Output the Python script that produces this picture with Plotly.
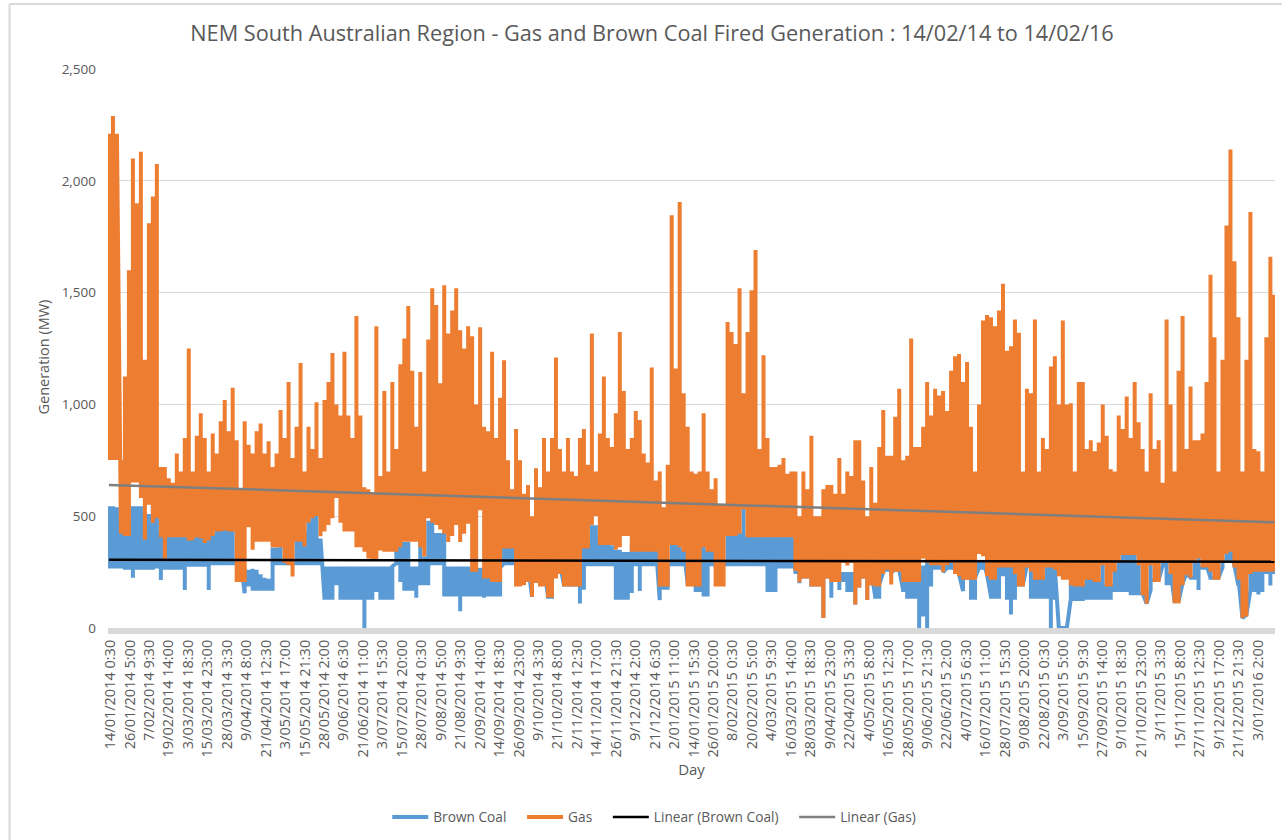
import plotly.graph_objects as go

title_text = "NEM South Australian Region - Gas and Brown Coal Fired Generation : 14/02/14 to 14/02/16"

tick_labels = [
    "14/01/2014 0:30", "26/01/2014 5:00", "7/02/2014 9:30", "19/02/2014 14:00", "3/03/2014 18:30",
    "15/03/2014 23:00", "28/03/2014 3:30", "9/04/2014 8:00", "21/04/2014 12:30", "3/05/2014 17:00",
    "15/05/2014 21:30", "28/05/2014 2:00", "9/06/2014 6:30", "21/06/2014 11:00", "3/07/2014 15:30",
    "15/07/2014 20:00", "28/07/2014 0:30", "9/08/2014 5:00", "21/08/2014 9:30", "2/09/2014 14:00",
    "14/09/2014 18:30", "26/09/2014 23:00", "9/10/2014 3:30", "21/10/2014 8:00", "2/11/2014 12:30",
    "14/11/2014 17:00", "26/11/2014 21:30", "9/12/2014 2:00", "21/12/2014 6:30", "2/01/2015 11:00",
    "14/01/2015 15:30", "26/01/2015 20:00", "8/02/2015 0:30", "20/02/2015 5:00", "4/03/2015 9:30",
    "16/03/2015 14:00", "28/03/2015 18:30", "9/04/2015 23:00", "22/04/2015 3:30", "4/05/2015 8:00",
    "16/05/2015 12:30", "28/05/2015 17:00", "9/06/2015 21:30", "22/06/2015 2:00", "4/07/2015 6:30",
    "16/07/2015 11:00", "28/07/2015 15:30", "9/08/2015 20:00", "22/08/2015 0:30", "3/09/2015 5:00",
    "15/09/2015 9:30", "27/09/2015 14:00", "9/10/2015 18:30", "21/10/2015 23:00", "3/11/2015 3:30",
    "15/11/2015 8:00", "27/11/2015 12:30", "9/12/2015 17:00", "21/12/2015 21:30", "3/01/2016 2:00",
]

# Highest and lowest generation (MW) for each successive short period
gas_high = [
    2210,2290,2210,750,1125,1600,2100,1900,2130,1200,
    1810,1930,2075,720,720,670,650,780,700,850,
    1250,700,860,960,850,700,870,780,925,1020,
    880,1075,840,620,925,820,780,880,915,780,
    835,720,780,975,850,1100,760,900,1185,700,
    900,800,1010,760,1020,1100,1230,1000,950,1235,
    950,850,1395,950,630,620,600,1350,680,1060,
    700,1100,800,1180,1295,1440,1150,900,1145,700,
    1290,1520,1445,1095,1533,1317,1420,1520,1332,1250,
    1350,1305,1000,1345,900,880,1235,850,1030,1198,
    750,620,890,750,600,640,500,715,630,850,
    700,850,1210,800,700,850,700,680,850,890,
    730,1317,700,870,1125,850,810,960,1324,1060,
    800,850,970,930,780,740,1165,660,700,540,
    730,1846,1160,1905,1050,900,700,690,700,960,
    700,620,670,550,550,1369,1324,1270,1520,1050,
    1324,1510,1690,800,1220,850,720,720,730,760,
    690,700,700,500,700,620,860,500,500,620,
    640,640,600,760,600,700,680,840,840,660,
    500,720,560,810,975,770,770,945,1070,750,
    770,1295,810,810,900,1100,950,1070,1040,1060,
    970,1150,1215,1225,1100,1190,900,700,1000,1375,
    1400,1390,1350,1420,1540,1240,1260,1380,1320,700,
    1070,1050,1380,700,850,800,1170,1215,1000,1375,
    1000,1005,700,1100,1100,800,840,790,830,1000,
    860,710,700,950,890,1035,850,1100,920,800,
    700,1050,800,840,650,1380,1000,700,1150,1395,
    800,1080,840,840,870,1100,1580,1300,700,1200,
    1800,2140,1640,1390,700,1200,1860,800,790,700,
    1300,1660,1490,
]

gas_low = [
    760,760,760,430,420,420,660,660,590,395,
    560,470,500,415,310,415,415,415,415,415,
    400,395,415,410,380,400,420,440,440,445,
    440,440,215,215,215,460,350,395,395,395,
    395,370,360,370,300,290,230,395,395,365,
    480,500,510,410,440,470,500,590,480,440,
    440,440,370,370,350,320,310,310,355,350,
    350,350,350,370,395,395,395,395,370,320,
    500,480,470,450,430,385,420,470,385,430,
    475,260,260,535,230,230,215,215,215,365,
    365,365,195,195,200,215,140,210,195,195,
    140,145,230,250,195,195,195,195,195,365,
    365,470,510,380,380,380,380,350,370,420,
    420,350,350,350,350,350,350,350,195,195,
    195,380,380,370,350,195,195,195,195,370,
    350,350,195,195,195,420,420,420,430,540,
    415,415,415,415,415,410,415,415,415,415,
    415,415,265,205,230,230,195,195,195,45,
    230,215,215,215,300,280,300,105,190,230,
    125,200,195,195,250,270,195,260,260,215,
    215,215,215,215,320,300,290,290,290,250,
    290,300,250,240,225,225,225,225,340,330,
    240,225,225,280,280,280,280,250,195,195,
    280,260,225,225,225,280,280,270,240,225,
    225,200,195,195,195,225,225,215,215,290,
    195,195,260,300,335,335,335,335,290,155,
    110,290,215,215,300,300,250,120,120,200,
    245,225,300,320,280,280,260,225,225,300,
    340,350,280,225,45,60,250,260,260,260,
    260,260,260,
]

coal_high = [
    545,545,540,480,480,490,545,545,545,520,
    510,545,520,430,415,415,415,415,420,430,
    440,400,420,415,400,420,420,440,440,445,
    460,440,300,300,270,260,265,260,240,225,
    220,360,360,370,300,300,300,400,420,430,
    480,500,510,400,275,275,275,275,275,275,
    275,275,275,275,275,275,275,275,275,275,
    275,275,380,385,385,385,275,275,390,320,
    480,480,425,425,430,275,275,275,275,275,
    275,270,270,270,270,270,270,270,270,365,
    365,365,275,280,280,280,280,280,280,280,
    280,280,280,280,280,280,280,280,380,380,
    380,460,460,420,400,380,370,350,350,340,
    340,380,380,380,380,380,380,380,280,280,
    290,380,400,380,350,280,280,280,360,370,
    350,350,280,280,300,420,420,420,425,540,
    415,415,415,415,415,410,415,415,415,415,
    415,415,250,250,250,250,250,250,250,250,
    250,250,250,250,250,250,250,250,250,250,
    250,250,195,195,270,270,250,260,260,250,
    250,270,260,250,280,300,290,290,290,250,
    290,300,250,240,225,225,225,225,300,300,
    240,225,225,280,280,280,280,280,195,195,
    280,280,225,225,225,280,280,270,0,0,
    0,200,195,195,195,225,225,215,215,290,
    195,195,260,300,335,335,335,335,290,155,
    110,290,215,215,300,300,250,120,120,200,
    245,225,300,320,280,280,260,225,225,300,
    340,350,280,225,45,60,250,260,260,260,
    260,500,260,
]

coal_low = [
    275,275,275,275,270,270,225,270,270,270,
    270,270,275,215,270,270,270,270,270,170,
    283,283,283,283,283,170,290,290,290,290,
    290,290,290,290,155,195,175,175,175,175,
    175,175,290,290,290,290,290,290,290,290,
    290,290,290,290,135,135,135,200,135,135,
    135,135,135,135,0,135,135,170,135,135,
    135,135,290,215,175,175,175,135,200,200,
    200,290,290,290,150,150,150,150,75,150,
    150,150,150,150,135,150,150,150,150,290,
    290,290,285,285,285,285,140,285,285,285,
    140,140,285,285,195,195,195,195,110,180,
    285,285,285,285,285,285,285,135,135,135,
    135,165,285,165,285,285,285,285,125,180,
    180,285,285,285,285,200,200,170,170,150,
    150,285,285,285,285,285,285,285,285,285,
    285,285,285,285,285,170,170,170,275,275,
    275,275,250,200,230,230,195,195,195,45,
    230,135,215,170,215,170,170,105,190,230,
    125,200,140,140,250,260,260,260,260,170,
    140,140,140,0,60,0,195,270,270,270,
    270,270,270,270,165,225,135,135,270,270,
    240,140,140,140,240,135,60,135,195,195,
    280,140,140,140,140,140,0,135,0,0,
    0,130,130,130,130,135,135,135,135,135,
    135,135,170,170,170,170,155,155,155,155,
    110,170,215,215,280,200,200,120,120,200,
    245,225,225,170,270,270,225,225,225,270,
    300,300,280,190,45,60,170,170,150,170,
    250,190,250,
]

coal_trend = [305, 296]
gas_trend = [640, 473]
day_span = 731
days_per_label = day_span / len(tick_labels)
days_per_period = 2.5


def envelope(high, low):
    """One continuous line that reaches each period's high and low and keeps every period a clean vertical stroke."""
    xs, ys = [], []
    n = len(high)
    for i in range(n):
        d = 0.6 + i * days_per_period
        xs += [d, d]
        ys += [low[i], high[i]]
        if i + 1 < n:
            level = max(low[i], low[i + 1])
            if level <= min(high[i], high[i + 1]):
                xs += [d, d + days_per_period]
                ys += [level, level]
    return xs, ys


BLUE, ORANGE, GREY_TXT, GRID = "#5B9BD5", "#ED7D31", "#595959", "#D9D9D9"
FONT = "Open Sans"
L, R, T, B = 107.5, 1275, 69, 628
PW, PH = R - L, B - T
fig = go.Figure()
cx, cy = envelope(coal_high, coal_low)
fig.add_trace(go.Scatter(x=cx, y=cy, mode="lines", name="Brown Coal\u00a0\u00a0\u00a0", line=dict(color=BLUE, width=4, simplify=False)))
gx, gy = envelope(gas_high, gas_low)
fig.add_trace(go.Scatter(x=gx, y=gy, mode="lines", name="Gas\u00a0\u00a0\u00a0", line=dict(color=ORANGE, width=4, simplify=False)))
trend_x = [0.6, 0.6 + (len(gas_high) - 1) * days_per_period]
fig.add_trace(go.Scatter(x=trend_x, y=coal_trend, mode="lines", name="Linear (Brown Coal)\u00a0\u00a0\u00a0", line=dict(color="#000000", width=2.5)))
fig.add_trace(go.Scatter(x=trend_x, y=gas_trend, mode="lines", name="Linear (Gas)", line=dict(color="#7F7F7F", width=2.5)))

fig.update_layout(
    width=1282, height=840, margin=dict(l=L, r=1282 - R, t=T, b=840 - B),
    paper_bgcolor="white", plot_bgcolor="white", showlegend=True,
    font=dict(family=FONT, color=GREY_TXT, size=13),
    title=dict(text=title_text, x=652 / 1282, xanchor="center", y=1 - 33 / 840, yanchor="middle",
               font=dict(size=21.7, color=GREY_TXT, family=FONT)),
    xaxis=dict(range=[0, day_span], tickmode="array",
               tickvals=[1.5 + i * days_per_label for i in range(len(tick_labels))],
               ticktext=tick_labels, tickangle=-90, showgrid=False, zeroline=False,
               showline=True, linewidth=6, linecolor=GRID, ticks="",
               tickfont=dict(size=14.5, color=GREY_TXT),
               title=dict(text="Day", font=dict(size=15, color=GREY_TXT), standoff=10)),
    yaxis=dict(range=[0, 2500], tickvals=[0, 500, 1000, 1500, 2000, 2500], tickformat=",",
               gridcolor=GRID, gridwidth=1, zeroline=False, showline=False,
               ticklabelstandoff=11, tickfont=dict(size=13.5, color=GREY_TXT)),
    annotations=[dict(text="Generation (MW)", textangle=-90, showarrow=False,
                      xref="paper", yref="paper", x=(42 - L) / PW, y=(B - 357) / PH,
                      xanchor="center", yanchor="middle", font=dict(size=14.5, color=GREY_TXT))],
    legend=dict(orientation="h", x=(654 - L) / PW, xanchor="center", y=-(817 - B) / PH, yanchor="middle",
                font=dict(size=13.7, color=GREY_TXT), itemwidth=36),
    shapes=[dict(type="line", xref="paper", yref="paper", x0=(9 - L) / PW, x1=(9 - L) / PW,
                 y0=-(840 - B) / PH, y1=1 + (T - 4) / PH, line=dict(color=GRID, width=2)),
            dict(type="line", xref="paper", yref="paper", x0=(9 - L) / PW, x1=(1282 - L) / PW,
                 y0=1 + (T - 4) / PH, y1=1 + (T - 4) / PH, line=dict(color=GRID, width=2))],
)
fig.write_html("out.html", config=dict(displayModeBar=False),
               post_script="document.body.style.margin='0';document.documentElement.style.overflow='hidden';")
